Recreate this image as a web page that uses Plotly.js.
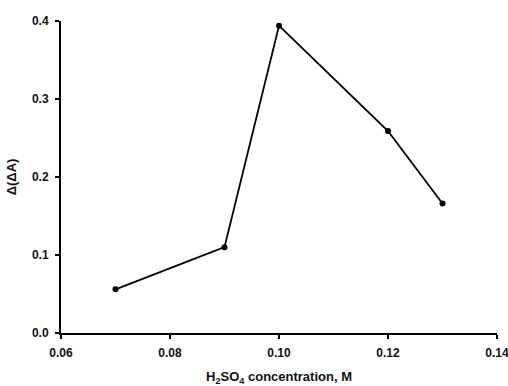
<!DOCTYPE html>
<html><head><meta charset="utf-8">
<script src="https://cdn.plot.ly/plotly-3.0.1.min.js"></script>
<style>html,body{margin:0;padding:0;background:#fff}</style>
</head><body>
<div id="chart" style="width:508px;height:386px"></div>
<script>
const concentration = [0.07, 0.09, 0.10, 0.12, 0.13];
const deltaA = [0.056, 0.110, 0.394, 0.259, 0.166];
const xTicks = [0.06, 0.08, 0.10, 0.12, 0.14];
const xTickLabels = ["0.06", "0.08", "0.10", "0.12", "0.14"];
const yTicks = [0.0, 0.1, 0.2, 0.3, 0.4];
const yTickLabels = ["0.0", "0.1", "0.2", "0.3", "0.4"];

const trace = {
  x: concentration, y: deltaA, type: 'scatter', mode: 'lines+markers',
  line: {color: '#000', width: 1.8},
  marker: {color: '#000', size: 6, symbol: 'circle'},
  cliponaxis: false
};
const fam = 'Liberation Sans, Arial, sans-serif';
const tf = {family: fam, size: 12, color: '#111', weight: 'bold'};
const layout = {
  width: 508, height: 386,
  margin: {l: 61, r: 11, t: 21, b: 53},
  paper_bgcolor: '#fff', plot_bgcolor: '#fff',
  showlegend: false,
  font: {family: fam, size: 12, color: '#111'},
  xaxis: {
    range: [0.06, 0.14], tickvals: xTicks, ticktext: xTickLabels.map(t => '<b>' + t + '</b>'),
    ticklabeloverflow: 'allow', ticklabelstandoff: 4,
    showgrid: false, zeroline: false, showline: true, linecolor: '#000', linewidth: 2,
    ticks: 'outside', ticklen: 4, tickwidth: 2, tickcolor: '#000',
    tickfont: tf,
    title: {text: '<b>H<sub>2</sub>SO<sub>4</sub> concentration, M</b>', font: {family: fam, size: 13, color: '#111'}, standoff: 14}
  },
  yaxis: {
    range: [0, 0.4], tickvals: yTicks, ticktext: yTickLabels.map(t => '<b>' + t + '</b>'),
    ticklabeloverflow: 'allow', ticklabelstandoff: 4,
    showgrid: false, zeroline: false, showline: true, linecolor: '#000', linewidth: 2,
    ticks: 'outside', ticklen: 4, tickwidth: 2, tickcolor: '#000',
    tickfont: tf,
    title: {text: '<b>Δ(ΔA)</b>', font: {family: fam, size: 13, color: '#111'}, standoff: 12}
  }
};
Plotly.newPlot('chart', [trace], layout, {displayModeBar: false, staticPlot: true});
</script>
</body></html>
